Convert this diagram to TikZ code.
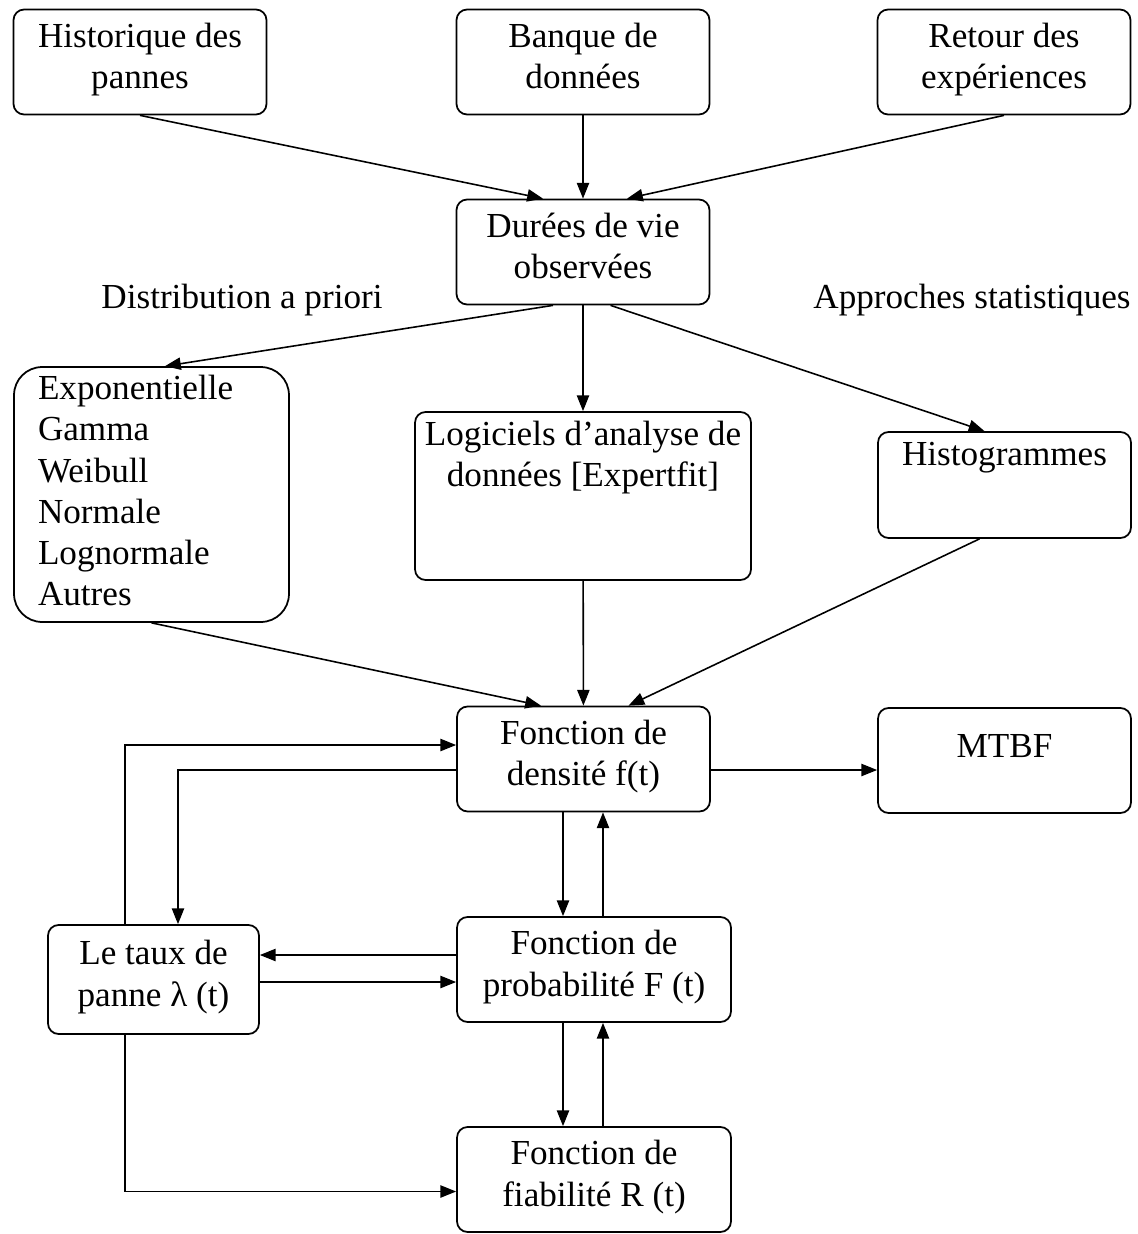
\documentclass[tikz,border=0pt]{standalone}
\usepackage{fontspec}
\setmainfont{Liberation Serif}
\usetikzlibrary{arrows.meta}

\begin{document}
\begin{tikzpicture}[x=0.02cm,y=-0.02cm,
		font=\fontsize{20}{23.5}\selectfont,
		box/.style={draw,line width=1pt,rounded corners=6pt,align=center,
			minimum width=5.06cm,minimum height=2.1cm,inner sep=2pt,
			execute at begin node=\strut,execute at end node=\strut},
		>={Triangle[length=9pt,width=7pt]},
		every path/.style={line width=0.9pt}]
		\useasboundingbox (0,0) rectangle (1137,1234);
		% sources
		\node[box] (hist) at (140,62) {Historique des\\pannes};
		\node[box] (banque) at (583,62) {Banque de\\données};
		\node[box] (retour) at (1004,62) {Retour des\\expériences};
		\node[box] (duree) at (583,252) {Durées de vie\\observées};
		\node (distrib) at (242,300) {Distribution a priori};
		\node (approche) at (972,300) {Approches statistiques};
		% lois et outils
		\node[box,rounded corners=16pt,align=left,text width=4.54cm,inner xsep=0.48cm,
			minimum height=5.1cm] (lois) at (151.5,494.5)
			{Exponentielle\\Gamma\\Weibull\\Normale\\Lognormale\\Autres};
		\node[box,inner sep=0pt] (logi) at (583,496)
			{\parbox[c][3.36cm][t]{6.72cm}{\centering\vspace*{5pt}Logiciels d'analyse de\\données [Expertfit]}};
		\node[box,inner sep=0pt] (histo) at (1004.5,485)
			{\parbox[c][2.12cm][t]{5.06cm}{\centering\vspace*{6pt}Histogrammes}};
		% fonctions
		\node[box] (dens) at (583.5,759) {Fonction de\\densité f(t)};
		\node[box,inner sep=0pt] (mtbf) at (1004.5,760.5)
			{\parbox[c][1.26cm][t]{5.06cm}{\centering\vspace*{3pt}MTBF}};
		\node[box,minimum width=4.22cm,minimum height=2.18cm] (taux) at (153.5,979.5) {Le taux de\\panne λ (t)};
		\node[box,minimum width=5.48cm] (prob) at (594,969.5) {Fonction de\\probabilité F (t)};
		\node[box,minimum width=5.48cm] (fiab) at (594,1179.5) {Fonction de\\fiabilité R (t)};
		% connecteurs
		\draw[->] (hist.south) -- ([xshift=-0.8cm]duree.north);
		\draw[->] (banque) -- (duree);
		\draw[->] (retour.south) -- ([xshift=0.88cm]duree.north);
		\draw[->] ([xshift=-0.6cm]duree.south) -- ([xshift=0.27cm]lois.north);
		\draw[->] (duree) -- (logi);
		\draw[->] ([xshift=0.55cm]duree.south) -- ([xshift=-0.4cm]histo.north);
		\draw[->] (lois.south) -- ([xshift=-0.85cm]dens.north);
		\draw[->] (logi) -- (dens);
		\draw[->] ([xshift=-0.5cm]histo.south) -- ([xshift=0.9cm]dens.north);
		\draw[->] ([yshift=-0.22cm]dens.east) -- ([yshift=-0.22cm]dens.east -| mtbf.west);
		\draw[->] ([xshift=-0.57cm]taux.north) |- ([yshift=0.28cm]dens.west);
		\draw[->] ([yshift=-0.22cm]dens.west) -| ([xshift=0.49cm]taux.north);
		\draw[->] ([xshift=-0.41cm]dens.south) -- ([xshift=-0.41cm]dens.south |- prob.north);
		\draw[->] ([xshift=0.39cm]dens.south |- prob.north) -- ([xshift=0.39cm]dens.south);
		\draw[->] ([yshift=0.29cm]prob.west) -- ([yshift=0.29cm]prob.west -| taux.east);
		\draw[->] ([yshift=-0.25cm]prob.west -| taux.east) -- ([yshift=-0.25cm]prob.west);
		\draw[->] ([xshift=-0.41cm]dens.south |- prob.south) -- ([xshift=-0.41cm]dens.south |- fiab.north);
		\draw[->] ([xshift=0.39cm]dens.south |- fiab.north) -- ([xshift=0.39cm]dens.south |- prob.south);
		\draw[->] ([xshift=-0.57cm]taux.south) |- ([yshift=-0.24cm]fiab.west);
	\end{tikzpicture}
\end{document}
